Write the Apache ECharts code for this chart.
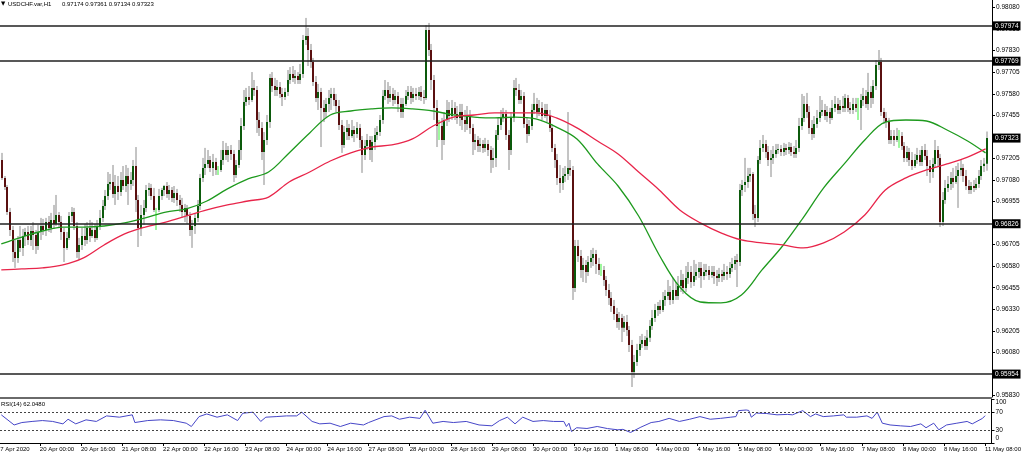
<!DOCTYPE html>
<html><head><meta charset="utf-8">
<script src="https://cdn.jsdelivr.net/npm/echarts@6/dist/echarts.min.js"></script>
<style>html,body{margin:0;padding:0;background:#fff}#c{width:1024px;height:453px}</style>
</head><body><div id="c"></div>
<script>
// ---- DATA: hourly candles [open, close, low, high] per trading day ----
const apr17 = [
[0.97196,0.97092,0.97080,0.97237],[0.97092,0.97039,0.97022,0.97103],[0.97039,0.96894,0.96877,0.97051],[0.96894,0.96790,0.96755,0.96918],
[0.96790,0.96662,0.96604,0.96813],[0.96662,0.96628,0.96570,0.96732],[0.96628,0.96732,0.96599,0.96755],[0.96732,0.96686,0.96662,0.96813],
[0.96686,0.96755,0.96639,0.96796],[0.96755,0.96778,0.96697,0.96802],[0.96778,0.96732,0.96703,0.96813],[0.96732,0.96784,0.96697,0.96813],
[0.96784,0.96761,0.96674,0.96836],[0.96761,0.96697,0.96651,0.96790],[0.96697,0.96778,0.96674,0.96819]];
const apr20 = [
[0.96778,0.96813,0.96732,0.96860],[0.96813,0.96790,0.96761,0.96854],[0.96790,0.96836,0.96755,0.96860],[0.96836,0.96802,0.96778,0.96871],
[0.96802,0.96848,0.96773,0.96889],[0.96848,0.96825,0.96796,0.96935],[0.96825,0.96877,0.96813,0.96993],[0.96877,0.96836,0.96802,0.96894],
[0.96836,0.96778,0.96732,0.96871],[0.96778,0.96686,0.96604,0.96802],[0.96686,0.96744,0.96674,0.96778],[0.96744,0.96871,0.96732,0.96894],
[0.96871,0.96894,0.96836,0.96923],[0.96894,0.96813,0.96790,0.96918],[0.96813,0.96662,0.96628,0.96836],[0.96662,0.96703,0.96616,0.96744],
[0.96703,0.96755,0.96674,0.96802],[0.96755,0.96732,0.96697,0.96825],[0.96732,0.96802,0.96709,0.96836],[0.96802,0.96755,0.96720,0.96848],
[0.96755,0.96790,0.96744,0.96836],[0.96790,0.96744,0.96720,0.96825],[0.96744,0.96813,0.96732,0.96848],[0.96813,0.96860,0.96790,0.96906]];
const apr21 = [
[0.96860,0.96929,0.96836,0.96964],[0.96929,0.96987,0.96906,0.97022],[0.96987,0.97057,0.96964,0.97126],[0.97057,0.97068,0.97022,0.97115],
[0.97068,0.96999,0.96976,0.97167],[0.96999,0.97045,0.96935,0.97109],[0.97045,0.97010,0.96964,0.97103],[0.97010,0.97080,0.96987,0.97126],
[0.97080,0.97045,0.97022,0.97161],[0.97045,0.97103,0.97010,0.97167],[0.97103,0.97057,0.96935,0.97150],[0.97057,0.97080,0.97022,0.97126],
[0.97080,0.97161,0.97045,0.97196],[0.97161,0.96964,0.96894,0.97271],[0.96964,0.96802,0.96691,0.96993],[0.96802,0.96877,0.96755,0.96935],
[0.96877,0.96918,0.96819,0.96964],[0.96918,0.97022,0.96894,0.97051],[0.97022,0.97034,0.96987,0.97063],[0.97034,0.96987,0.96964,0.97057],
[0.96987,0.96906,0.96894,0.97034],[0.96906,0.96906,0.96790,0.96918],[0.96906,0.96987,0.96894,0.97028],[0.96987,0.97022,0.96964,0.97034]];
const apr22 = [
[0.97022,0.97045,0.96987,0.97051],[0.97045,0.96999,0.96976,0.97068],[0.96999,0.97022,0.96964,0.97051],[0.97022,0.96976,0.96952,0.97039],
[0.96976,0.97005,0.96947,0.97045],[0.97005,0.96964,0.96929,0.97028],[0.96964,0.96935,0.96894,0.96993],[0.96935,0.96894,0.96860,0.96976],
[0.96894,0.96918,0.96836,0.96941],[0.96918,0.96871,0.96825,0.96935],[0.96871,0.96790,0.96755,0.96894],[0.96790,0.96813,0.96686,0.96848],
[0.96813,0.96860,0.96767,0.96883],[0.96860,0.96929,0.96836,0.96964],[0.96929,0.97092,0.96906,0.97115],[0.97092,0.97150,0.97068,0.97208],
[0.97150,0.97173,0.97109,0.97266],[0.97173,0.97196,0.97150,0.97254],[0.97196,0.97150,0.97126,0.97219],[0.97150,0.97184,0.97103,0.97231],
[0.97184,0.97138,0.97109,0.97208],[0.97138,0.97138,0.97109,0.97161],[0.97138,0.97196,0.97126,0.97254],[0.97196,0.97254,0.97167,0.97306]];
const apr23 = [
[0.97254,0.97225,0.97196,0.97295],[0.97225,0.97254,0.97184,0.97277],[0.97254,0.97231,0.97196,0.97283],[0.97231,0.97109,0.97068,0.97254],
[0.97109,0.97167,0.97092,0.97196],[0.97167,0.97254,0.97150,0.97312],[0.97254,0.97393,0.97196,0.97440],[0.97393,0.97532,0.97370,0.97602],
[0.97532,0.97561,0.97509,0.97614],[0.97561,0.97544,0.97515,0.97625],[0.97544,0.97614,0.97532,0.97706],[0.97614,0.97602,0.97567,0.97660],
[0.97602,0.97428,0.97353,0.97625],[0.97428,0.97382,0.97335,0.97474],[0.97382,0.97242,0.97196,0.97416],[0.97242,0.97312,0.97051,0.97358],
[0.97312,0.97416,0.97283,0.97457],[0.97416,0.97672,0.97382,0.97695],[0.97672,0.97625,0.97590,0.97706],[0.97625,0.97602,0.97567,0.97672],
[0.97602,0.97619,0.97567,0.97660],[0.97619,0.97579,0.97556,0.97648],[0.97579,0.97561,0.97509,0.97614],[0.97561,0.97590,0.97544,0.97614]];
const apr24 = [
[0.97590,0.97660,0.97567,0.97718],[0.97660,0.97695,0.97637,0.97735],[0.97695,0.97672,0.97648,0.97741],[0.97672,0.97683,0.97637,0.97718],
[0.97683,0.97660,0.97637,0.97706],[0.97660,0.97695,0.97637,0.97753],[0.97695,0.97892,0.97672,0.97921],[0.97892,0.97915,0.97863,0.98020],
[0.97915,0.97834,0.97741,0.97962],[0.97834,0.97764,0.97730,0.97869],[0.97764,0.97648,0.97625,0.97788],[0.97648,0.97556,0.97532,0.97683],
[0.97556,0.97590,0.97486,0.97637],[0.97590,0.97498,0.97271,0.97614],[0.97498,0.97474,0.97416,0.97544],[0.97474,0.97521,0.97440,0.97556],
[0.97521,0.97556,0.97474,0.97602],[0.97556,0.97579,0.97486,0.97614],[0.97579,0.97544,0.97509,0.97614],[0.97544,0.97509,0.97474,0.97579],
[0.97509,0.97399,0.97370,0.97544],[0.97399,0.97283,0.97237,0.97428],[0.97283,0.97358,0.97266,0.97393],[0.97358,0.97382,0.97312,0.97428]];
const apr27 = [
[0.97382,0.97335,0.97312,0.97405],[0.97335,0.97370,0.97324,0.97428],[0.97370,0.97347,0.97300,0.97393],[0.97347,0.97382,0.97324,0.97416],
[0.97382,0.97312,0.97266,0.97405],[0.97312,0.97225,0.97121,0.97335],[0.97225,0.97277,0.97196,0.97312],[0.97277,0.97312,0.97254,0.97347],
[0.97312,0.97254,0.97196,0.97335],[0.97254,0.97300,0.97184,0.97335],[0.97300,0.97341,0.97254,0.97382],[0.97341,0.97358,0.97312,0.97393],
[0.97358,0.97428,0.97335,0.97457],[0.97428,0.97567,0.97405,0.97602],[0.97567,0.97602,0.97544,0.97660],[0.97602,0.97556,0.97521,0.97648],
[0.97556,0.97579,0.97532,0.97625],[0.97579,0.97544,0.97509,0.97614],[0.97544,0.97567,0.97521,0.97602],[0.97567,0.97521,0.97474,0.97590],
[0.97521,0.97474,0.97440,0.97556],[0.97474,0.97521,0.97440,0.97556],[0.97521,0.97567,0.97509,0.97602],[0.97567,0.97590,0.97544,0.97625]];
const apr28 = [
[0.97590,0.97556,0.97521,0.97625],[0.97556,0.97579,0.97532,0.97614],[0.97579,0.97567,0.97544,0.97614],[0.97567,0.97590,0.97544,0.97619],
[0.97590,0.97561,0.97538,0.97625],[0.97561,0.97556,0.97521,0.97602],[0.97556,0.97950,0.97544,0.97979],[0.97950,0.97834,0.97799,0.97991],
[0.97834,0.97660,0.97602,0.97869],[0.97660,0.97498,0.97428,0.97689],[0.97498,0.97393,0.97271,0.97544],[0.97393,0.97393,0.97312,0.97428],
[0.97393,0.97312,0.97196,0.97440],[0.97312,0.97428,0.97283,0.97474],[0.97428,0.97486,0.97393,0.97544],[0.97486,0.97451,0.97416,0.97532],
[0.97451,0.97498,0.97428,0.97544],[0.97498,0.97463,0.97428,0.97532],[0.97463,0.97440,0.97405,0.97509],[0.97440,0.97474,0.97393,0.97521],
[0.97474,0.97428,0.97370,0.97521],[0.97428,0.97405,0.97358,0.97486],[0.97405,0.97451,0.97370,0.97509],[0.97451,0.97382,0.97347,0.97486]];
const apr29 = [
[0.97382,0.97300,0.97225,0.97405],[0.97300,0.97312,0.97254,0.97347],[0.97312,0.97277,0.97242,0.97335],[0.97277,0.97289,0.97242,0.97324],
[0.97289,0.97266,0.97237,0.97312],[0.97266,0.97289,0.97242,0.97324],[0.97289,0.97254,0.97219,0.97312],[0.97254,0.97196,0.97121,0.97277],
[0.97196,0.97208,0.97150,0.97266],[0.97208,0.97341,0.97155,0.97370],[0.97341,0.97399,0.97312,0.97440],[0.97399,0.97440,0.97370,0.97486],
[0.97440,0.97463,0.97416,0.97498],[0.97463,0.97341,0.97312,0.97486],[0.97341,0.97254,0.97138,0.97370],[0.97254,0.97440,0.97225,0.97474],
[0.97440,0.97614,0.97416,0.97660],[0.97614,0.97602,0.97567,0.97672],[0.97602,0.97544,0.97521,0.97637],[0.97544,0.97567,0.97521,0.97602],
[0.97567,0.97405,0.97382,0.97590],[0.97405,0.97347,0.97295,0.97440],[0.97347,0.97393,0.97335,0.97428],[0.97393,0.97486,0.97370,0.97521]];
const apr30 = [
[0.97486,0.97521,0.97463,0.97585],[0.97521,0.97474,0.97440,0.97556],[0.97474,0.97498,0.97451,0.97544],[0.97498,0.97451,0.97428,0.97532],
[0.97451,0.97486,0.97440,0.97521],[0.97486,0.97451,0.97416,0.97521],[0.97451,0.97382,0.97358,0.97486],[0.97382,0.97266,0.97242,0.97405],
[0.97266,0.97196,0.97150,0.97289],[0.97196,0.97092,0.97051,0.97231],[0.97092,0.97063,0.97005,0.97167],[0.97063,0.97103,0.97022,0.97150],
[0.97103,0.97115,0.97068,0.97161],[0.97115,0.97150,0.97080,0.97474],[0.97150,0.97138,0.97103,0.97196],[0.97138,0.96454,0.96384,0.97161],
[0.96454,0.96697,0.96430,0.96732],[0.96697,0.96639,0.96604,0.96732],[0.96639,0.96558,0.96512,0.96674],[0.96558,0.96587,0.96488,0.96628],
[0.96587,0.96546,0.96483,0.96616],[0.96546,0.96604,0.96523,0.96639],[0.96604,0.96628,0.96570,0.96674],[0.96628,0.96651,0.96581,0.96686]];
const may01 = [
[0.96651,0.96593,0.96535,0.96674],[0.96593,0.96558,0.96529,0.96628],[0.96558,0.96558,0.96523,0.96593],[0.96558,0.96500,0.96465,0.96581],
[0.96500,0.96442,0.96407,0.96523],[0.96442,0.96396,0.96355,0.96477],[0.96396,0.96349,0.96314,0.96430],[0.96349,0.96303,0.96268,0.96384],
[0.96303,0.96256,0.96222,0.96338],[0.96256,0.96280,0.96210,0.96314],[0.96280,0.96222,0.96140,0.96303],[0.96222,0.96256,0.96198,0.96291],
[0.96256,0.96210,0.96175,0.96297],[0.96210,0.96123,0.96082,0.96233],[0.96123,0.95966,0.95879,0.96152],[0.95966,0.96024,0.95932,0.96065],
[0.96024,0.96094,0.96001,0.96129],[0.96094,0.96129,0.96059,0.96175],[0.96129,0.96152,0.96106,0.96187],[0.96152,0.96117,0.96094,0.96175],
[0.96117,0.96164,0.96094,0.96210],[0.96164,0.96233,0.96140,0.96268],[0.96233,0.96280,0.96210,0.96326],[0.96280,0.96326,0.96256,0.96361]];
const may04 = [
[0.96326,0.96349,0.96291,0.96372],[0.96349,0.96326,0.96303,0.96384],[0.96326,0.96384,0.96314,0.96430],[0.96384,0.96407,0.96349,0.96442],
[0.96407,0.96430,0.96384,0.96500],[0.96430,0.96384,0.96355,0.96465],[0.96384,0.96442,0.96361,0.96512],[0.96442,0.96407,0.96384,0.96488],
[0.96407,0.96465,0.96384,0.96523],[0.96465,0.96500,0.96430,0.96558],[0.96500,0.96454,0.96419,0.96535],[0.96454,0.96512,0.96430,0.96581],
[0.96512,0.96546,0.96477,0.96604],[0.96546,0.96488,0.96454,0.96581],[0.96488,0.96523,0.96465,0.96616],[0.96523,0.96546,0.96500,0.96593],
[0.96546,0.96570,0.96512,0.96604],[0.96570,0.96523,0.96454,0.96604],[0.96523,0.96546,0.96500,0.96593],[0.96546,0.96558,0.96523,0.96593],
[0.96558,0.96529,0.96500,0.96581],[0.96529,0.96546,0.96512,0.96581],[0.96546,0.96523,0.96477,0.96581],[0.96523,0.96512,0.96465,0.96558]];
const may05 = [
[0.96512,0.96535,0.96488,0.96570],[0.96535,0.96523,0.96488,0.96558],[0.96523,0.96546,0.96500,0.96593],[0.96546,0.96535,0.96500,0.96581],
[0.96535,0.96570,0.96512,0.96604],[0.96570,0.96593,0.96546,0.96628],[0.96593,0.96616,0.96558,0.96639],[0.96616,0.96604,0.96459,0.96651],
[0.96604,0.97022,0.96581,0.97057],[0.97022,0.97051,0.96987,0.97080],[0.97051,0.97068,0.97010,0.97208],[0.97068,0.97103,0.97034,0.97150],
[0.97103,0.97115,0.97068,0.97150],[0.97115,0.96883,0.96848,0.97126],[0.96883,0.96860,0.96807,0.96935],[0.96860,0.97196,0.96836,0.97219],
[0.97196,0.97266,0.97173,0.97312],[0.97266,0.97289,0.97242,0.97341],[0.97289,0.97242,0.97208,0.97312],[0.97242,0.97196,0.97161,0.97277],
[0.97196,0.97208,0.97097,0.97254],[0.97208,0.97231,0.97173,0.97277],[0.97231,0.97254,0.97208,0.97289],[0.97254,0.97260,0.97231,0.97289]];
const may06 = [
[0.97260,0.97242,0.97219,0.97283],[0.97242,0.97266,0.97219,0.97295],[0.97266,0.97254,0.97225,0.97289],[0.97254,0.97271,0.97231,0.97300],
[0.97271,0.97242,0.97219,0.97295],[0.97242,0.97231,0.97208,0.97277],[0.97231,0.97266,0.97208,0.97312],[0.97266,0.97393,0.97242,0.97440],
[0.97393,0.97440,0.97370,0.97579],[0.97440,0.97521,0.97416,0.97567],[0.97521,0.97474,0.97440,0.97585],[0.97474,0.97382,0.97347,0.97509],
[0.97382,0.97347,0.97312,0.97428],[0.97347,0.97405,0.97324,0.97451],[0.97405,0.97440,0.97382,0.97486],[0.97440,0.97474,0.97416,0.97567],
[0.97474,0.97486,0.97451,0.97544],[0.97486,0.97451,0.97428,0.97521],[0.97451,0.97474,0.97416,0.97509],[0.97474,0.97440,0.97405,0.97498],
[0.97440,0.97498,0.97428,0.97544],[0.97498,0.97521,0.97474,0.97567],[0.97521,0.97486,0.97463,0.97556],[0.97486,0.97509,0.97463,0.97544]];
const may07 = [
[0.97509,0.97498,0.97474,0.97567],[0.97498,0.97556,0.97474,0.97579],[0.97556,0.97498,0.97474,0.97573],[0.97498,0.97486,0.97463,0.97532],
[0.97486,0.97521,0.97463,0.97556],[0.97521,0.97498,0.97474,0.97556],[0.97498,0.97498,0.97428,0.97556],[0.97498,0.97544,0.97370,0.97579],
[0.97544,0.97567,0.97509,0.97614],[0.97567,0.97521,0.97498,0.97602],[0.97521,0.97590,0.97486,0.97701],[0.97590,0.97556,0.97498,0.97625],
[0.97556,0.97625,0.97521,0.97660],[0.97625,0.97747,0.97602,0.97776],[0.97747,0.97764,0.97718,0.97834],[0.97764,0.97474,0.97451,0.97788],
[0.97474,0.97440,0.97405,0.97498],[0.97440,0.97416,0.97382,0.97474],[0.97416,0.97312,0.97289,0.97440],[0.97312,0.97335,0.97289,0.97370],
[0.97335,0.97312,0.97277,0.97370],[0.97312,0.97335,0.97300,0.97382],[0.97335,0.97335,0.97266,0.97370],[0.97335,0.97277,0.97254,0.97358]];
const may08 = [
[0.97277,0.97208,0.97184,0.97300],[0.97208,0.97242,0.97184,0.97277],[0.97242,0.97196,0.97161,0.97266],[0.97196,0.97161,0.97138,0.97242],
[0.97161,0.97196,0.97150,0.97231],[0.97196,0.97225,0.97173,0.97266],[0.97225,0.97184,0.97161,0.97254],[0.97184,0.97254,0.97161,0.97277],
[0.97254,0.97219,0.97196,0.97289],[0.97219,0.97161,0.97103,0.97254],[0.97161,0.97126,0.97063,0.97196],[0.97126,0.97173,0.97092,0.97208],
[0.97173,0.97254,0.97150,0.97312],[0.97254,0.97208,0.97161,0.97277],[0.97208,0.96836,0.96807,0.97231],[0.96836,0.96964,0.96813,0.97010],
[0.96964,0.97034,0.96941,0.97080],[0.97034,0.97057,0.97010,0.97103],[0.97057,0.97092,0.97022,0.97126],[0.97092,0.97068,0.97034,0.97150],
[0.97068,0.97103,0.97057,0.97161],[0.97103,0.97138,0.96918,0.97179],[0.97138,0.97150,0.97103,0.97196],[0.97150,0.97103,0.97068,0.97173]];
const may11 = [
[0.97103,0.97045,0.97022,0.97138],[0.97045,0.97022,0.96999,0.97080],[0.97022,0.97045,0.96999,0.97068],[0.97045,0.97034,0.97010,0.97080],
[0.97034,0.97057,0.97022,0.97092],[0.97057,0.97103,0.97034,0.97138],[0.97103,0.97161,0.97080,0.97196],[0.97161,0.97174,0.97126,0.97208],
[0.97174,0.97323,0.97134,0.97361]];

// trading days (label, first hour, last hour)
const sessions = [['17 Apr',9,23],['20 Apr',0,23],['21 Apr',0,23],['22 Apr',0,23],['23 Apr',0,23],['24 Apr',0,23],
  ['27 Apr',0,23],['28 Apr',0,23],['29 Apr',0,23],['30 Apr',0,23],['1 May',0,23],['4 May',0,23],['5 May',0,23],
  ['6 May',0,23],['7 May',0,23],['8 May',0,23],['11 May',0,8]];

// moving averages, read every 8 bars (last point = final bar)
const maGreen = [0.96709,0.96749,0.96784,0.96807,0.96807,0.96813,0.96831,0.96860,0.96894,0.96912,0.96958,0.97028,0.97086,0.97126,0.97237,0.97353,0.97457,0.97480,0.97492,0.97498,0.97492,0.97480,0.97457,0.97445,0.97440,0.97445,0.97434,0.97387,0.97318,0.97173,0.97045,0.96871,0.96645,0.96459,0.96372,0.96367,0.96413,0.96558,0.96697,0.96860,0.97034,0.97173,0.97312,0.97416,0.97428,0.97422,0.97370,0.97306,0.97237];
const maRed = [0.96558,0.96564,0.96570,0.96587,0.96628,0.96703,0.96767,0.96807,0.96836,0.96871,0.96906,0.96935,0.96958,0.96981,0.97068,0.97126,0.97190,0.97237,0.97271,0.97283,0.97318,0.97393,0.97445,0.97457,0.97469,0.97469,0.97469,0.97440,0.97382,0.97306,0.97231,0.97126,0.97022,0.96906,0.96831,0.96773,0.96732,0.96715,0.96703,0.96686,0.96715,0.96778,0.96877,0.97022,0.97092,0.97138,0.97173,0.97213,0.97260];

// RSI(14) points [bar index, value]
const rsiPoints = [[0,64],[5,41],[8,46.5],[12,49],[16,51],[20,49],[24,43.5],[26,54],[29,43.5],[33,52.6],[37,49],[41,61.6],[46,58.7],[51,64],[52,46.5],[57,51],[62,52.6],[67,51],[72,45],[74,37.5],[77,60],[80,66],[84,58.7],[88,64],[92,51],[94,67.6],[98,70],[101,49],[103,58.7],[107,60],[111,61.6],[115,61.6],[117,70],[121,49],[124,43.5],[128,45],[132,37.5],[136,45],[141,41],[143,46.5],[149,60],[152,61.6],[155,54],[159,58.7],[163,56],[165,74.5],[168,45],[172,49],[176,46.5],[181,49],[186,41],[191,39],[194,51],[197,58.7],[200,43.5],[203,58.7],[207,49],[211,51],[215,49],[219,49],[220,37.5],[221,45],[222,26],[224,34.7],[228,33],[232,37.5],[236,32.8],[240,30],[242,31],[245,24],[249,36],[253,46.5],[256,49],[260,56],[264,49],[268,54],[272,60],[276,54],[280,56],[284,58.7],[286,60],[287,73.6],[290,75],[291,74],[292,58.7],[294,68],[298,67],[302,64],[306,65],[308,64],[312,73.6],[315,60],[317,66],[320,60],[324,61.6],[328,64],[329,58.7],[333,58.7],[337,61.6],[339,56],[341,70],[343,45],[346,41],[350,39],[354,37.5],[358,43.5],[360,34.7],[363,45],[365,30],[368,41],[372,45],[376,49],[378,43.5],[382,56],[383,62.048]];

const levels = [0.97974, 0.97769, 0.96826, 0.95954];
const rsiLevels = [30, 70];
const priceTicks = [0.95830,0.95955,0.96080,0.96205,0.96330,0.96455,0.96580,0.96705,0.96830,0.96955,0.97080,0.97205,0.97330,0.97455,0.97580,0.97705,0.97830,0.97955,0.98080];
const rsiTicks = [0, 30, 70, 100];
const timeTicks = ['20 Apr 00:00','20 Apr 16:00','21 Apr 08:00','22 Apr 00:00','22 Apr 16:00','23 Apr 08:00','24 Apr 00:00','24 Apr 16:00','27 Apr 08:00','28 Apr 00:00','28 Apr 16:00','29 Apr 08:00','30 Apr 00:00','30 Apr 16:00','1 May 08:00','4 May 00:00','4 May 16:00','5 May 08:00','6 May 00:00','6 May 16:00','7 May 08:00','8 May 00:00','8 May 16:00','11 May 08:00'];

// ---- build ----
const bars = [].concat(apr17,apr20,apr21,apr22,apr23,apr24,apr27,apr28,apr29,apr30,may01,may04,may05,may06,may07,may08,may11);
const cats = [];
sessions.forEach(([d,h0,h1])=>{ for(let h=h0;h<=h1;h++) cats.push(d+' '+String(h).padStart(2,'0')+':00'); });
cats.push(' ', '  '); // right margin of the chart
const N = bars.length;
const candleRows = bars.map((b,i)=>[i,b[0],b[1],b[2],b[3]]);
const greenPts = maGreen.map((v,k)=>[Math.min(k*8,N-1),v]);
const redPts = maRed.map((v,k)=>[Math.min(k*8,N-1),v]);
const last = bars[N-1];
const tickSet = new Set(timeTicks);
const FONT = 'Liberation Sans';
const fmt = v => v.toFixed(5);

const chart = echarts.init(document.getElementById('c'), null, {renderer:'canvas'});
chart.setOption({
  animation:false,
  backgroundColor:'#ffffff',
  textStyle:{fontFamily:FONT},
  grid:[{left:0,right:32,top:0,height:397},{left:0,right:32,top:399,height:44}],
  xAxis:[
    {type:'category',gridIndex:0,data:cats,boundaryGap:true,show:false},
    {type:'category',gridIndex:1,data:cats,boundaryGap:true,
     axisLine:{show:true,lineStyle:{color:'#000',width:1}},
     axisTick:{show:true,alignWithLabel:true,length:3,interval:(i,v)=>tickSet.has(v),lineStyle:{color:'#000'}},
     axisLabel:{interval:(i,v)=>tickSet.has(v),align:'left',fontSize:6,color:'#000',margin:3,fontFamily:FONT},
     splitLine:{show:false}}
  ],
  yAxis:[
    {type:'value',gridIndex:0,position:'right',min:0.95821,max:0.98124,scale:true,
     splitLine:{show:false},axisLine:{show:true,lineStyle:{color:'#000'}},
     axisTick:{show:true,length:3,customValues:priceTicks,lineStyle:{color:'#000'}},
     axisLabel:{customValues:priceTicks,formatter:fmt,fontSize:6.5,color:'#000',margin:4,fontFamily:FONT}},
    {type:'value',gridIndex:1,position:'right',min:0,max:100,
     splitLine:{show:false},axisLine:{show:true,lineStyle:{color:'#000'}},
     axisTick:{show:true,length:3,customValues:rsiTicks,lineStyle:{color:'#000'}},
     axisLabel:{customValues:rsiTicks,fontSize:6.5,color:'#000',margin:4,fontFamily:FONT,
       formatter:v=> v===100?'{t|100}':(v===0?'{b|0}':String(v)),
       rich:{t:{padding:[7,0,0,0],fontSize:6.5,fontFamily:FONT},b:{padding:[0,0,9,0],fontSize:6.5,fontFamily:FONT}}}}
  ],
  series:[
    {type:'custom',name:'USDCHF',xAxisIndex:0,yAxisIndex:0,data:candleRows,encode:{x:0,y:[1,2,3,4]},z:2,
     renderItem:(params,api)=>{
       const i=api.value(0),o=api.value(1),c=api.value(2),l=api.value(3),h=api.value(4);
       const pO=api.coord([i,o]),pC=api.coord([i,c]),pL=api.coord([i,l]),pH=api.coord([i,h]);
       const cx=Math.round(pO[0]);
       const doji=(o===c);
       const kids=[{type:'line',shape:{x1:cx+1,y1:pH[1],x2:cx+1,y2:pL[1]},style:{stroke:doji?'#3cf03c':'#8a8a8a',lineWidth:1}}];
       if(!doji){
         const top=Math.min(pO[1],pC[1]), hgt=Math.max(1,Math.abs(pO[1]-pC[1]));
         kids.push({type:'rect',shape:{x:cx,y:top,width:2,height:hgt},style:{fill:c>o?'#0c5a0c':'#5a1010'}});
       }
       return {type:'group',children:kids};
     }},
    {type:'line',name:'MA fast',xAxisIndex:0,yAxisIndex:0,data:greenPts,showSymbol:false,smooth:0.35,z:4,
     lineStyle:{color:'#1e9a1e',width:1.3}},
    {type:'line',name:'MA slow',xAxisIndex:0,yAxisIndex:0,data:redPts,showSymbol:false,smooth:0.35,z:4,
     lineStyle:{color:'#e8254a',width:1.3},
     markLine:{symbol:'none',silent:true,animation:false,precision:5,
       lineStyle:{color:'#202020',width:1.5,type:'solid'},
       label:{position:'end',distance:1,formatter:p=>fmt(Number(p.value)),backgroundColor:'#000',color:'#fff',
              fontSize:6.5,fontFamily:FONT,padding:[1,2,1,2]},
       data:levels.map(v=>({yAxis:v})).concat([{yAxis:last[1],lineStyle:{color:'rgba(0,0,0,0)',width:0}}])}},
    {type:'line',name:'RSI',xAxisIndex:1,yAxisIndex:1,data:rsiPoints,showSymbol:false,z:3,
     lineStyle:{color:'#4646c8',width:1},
     markLine:{symbol:'none',silent:true,animation:false,label:{show:false},
       lineStyle:{color:'#444',width:1,type:[2,2]},
       data:rsiLevels.map(v=>({yAxis:v}))}}
  ],
  graphic:[
    {type:'rect',shape:{x:0,y:397,width:992,height:2},style:{fill:'#6a6a6a'},silent:true,z:10},
    {type:'text',x:1,y:1,style:{text:'▼',fontSize:5.5,fill:'#000',fontFamily:'DejaVu Sans'},z:10},
    {type:'text',x:8,y:1,style:{text:'USDCHF.var,H1',fontSize:6,fill:'#000',fontFamily:FONT},z:10},
    {type:'text',x:62,y:1,style:{text:[last[0],last[3],last[2],last[1]].map(fmt).join(' '),fontSize:6,fill:'#000',fontFamily:FONT},z:10},
    {type:'text',x:1,y:401,style:{text:'RSI(14) '+rsiPoints[rsiPoints.length-1][1].toFixed(4),fontSize:6,fill:'#000',fontFamily:FONT},z:10},
    {type:'text',x:-3,y:446,style:{text:'17 Apr 2020',fontSize:6,fill:'#000',fontFamily:FONT},z:10}
  ]
});
</script></body></html>
